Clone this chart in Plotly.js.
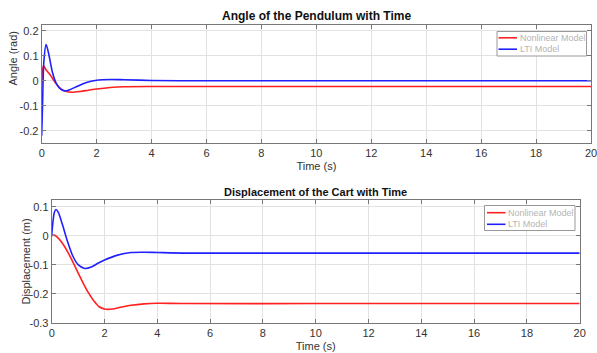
<!DOCTYPE html>
<html>
<head>
<meta charset="utf-8">
<script src="https://cdn.plot.ly/plotly-3.0.1.min.js"></script>
<style>html,body{margin:0;padding:0;background:#fff;}#chart{width:597px;height:353px;}</style>
</head>
<body>
<div id="chart"></div>
<script>
// Angle of the pendulum (rad)
const angleNonlinT = [0, 0.03, 0.07, 0.15, 0.3, 0.5, 0.7, 0.9, 1.1, 1.4, 1.7, 2.0, 2.5, 3.0, 4.0, 6.0, 10.0, 20.0];
const angleNonlinY = [-0.02, 0.04, 0.06, 0.045, 0.025, -0.008, -0.033, -0.043, -0.046, -0.043, -0.038, -0.033, -0.027, -0.024, -0.023, -0.023, -0.023, -0.023];
const angleLtiT = [0, 0.03, 0.08, 0.16, 0.25, 0.4, 0.55, 0.7, 0.85, 1.0, 1.3, 1.6, 2.0, 2.5, 3.0, 4.0, 5.0, 10.0, 20.0];
const angleLtiY = [-0.22, -0.1, 0.08, 0.145, 0.11, 0.03, -0.015, -0.035, -0.041, -0.037, -0.022, -0.008, 0.002, 0.005, 0.004, 0.001, 0, 0, 0];

// Displacement of the cart (m)
const dispNonlinT = [0, 0.1, 0.2, 0.4, 0.6, 0.8, 1.0, 1.2, 1.4, 1.6, 1.8, 2.0, 2.3, 2.6, 3.0, 3.5, 4.0, 5.0, 10.0, 20.0];
const dispNonlinY = [0, 0.002, -0.004, -0.025, -0.055, -0.09, -0.128, -0.165, -0.198, -0.225, -0.245, -0.253, -0.253, -0.247, -0.24, -0.235, -0.233, -0.234, -0.234, -0.234];
const dispLtiT = [0, 0.05, 0.1, 0.16, 0.25, 0.4, 0.6, 0.8, 1.0, 1.25, 1.5, 1.75, 2.0, 2.5, 3.0, 3.5, 4.0, 5.0, 10.0, 20.0];
const dispLtiY = [0, 0.05, 0.08, 0.09, 0.08, 0.04, -0.02, -0.07, -0.1, -0.113, -0.108, -0.095, -0.084, -0.067, -0.058, -0.057, -0.058, -0.06, -0.06, -0.06];

const seriesNames = ['Nonlinear Model', 'LTI Model'];
const xTicks = [0, 2, 4, 6, 8, 10, 12, 14, 16, 18, 20];
const angleTicks = [-0.2, -0.1, 0, 0.1, 0.2];
const dispTicks = [-0.3, -0.2, -0.1, 0, 0.1];

const RED = '#ff2020', BLUE = '#2020ff';
const COLORS = [RED, BLUE];
const FONT = 'Liberation Sans, Arial, sans-serif';

function mkLine(color) { return {color: color, width: 1.6, shape: 'spline', smoothing: 0.8}; }

const traces = [
  {x: angleNonlinT, y: angleNonlinY, name: seriesNames[0], xaxis: 'x', yaxis: 'y', mode: 'lines', line: mkLine(RED)},
  {x: angleLtiT, y: angleLtiY, name: seriesNames[1], xaxis: 'x', yaxis: 'y', mode: 'lines', line: mkLine(BLUE)},
  {x: dispNonlinT, y: dispNonlinY, name: seriesNames[0], xaxis: 'x2', yaxis: 'y2', mode: 'lines', line: mkLine(RED)},
  {x: dispLtiT, y: dispLtiY, name: seriesNames[1], xaxis: 'x2', yaxis: 'y2', mode: 'lines', line: mkLine(BLUE)}
];

const axBase = {
  showline: true, linecolor: '#777', linewidth: 1, mirror: 'ticks',
  ticks: 'inside', ticklen: 4, tickcolor: '#777',
  showgrid: true, gridcolor: '#e2e2e2', gridwidth: 1,
  zeroline: false, ticklabeloverflow: 'allow',
  tickfont: {family: FONT, size: 11, color: '#333'}
};
const titleFont = {family: FONT, size: 11, color: '#333'};

const W = 597, H = 353;
const px = v => v / W;
const py = v => (H - v) / H;
const fmt = v => (v === 0 ? '0' : String(v));

const shapes = [];
const annotations = [
  {text: '<b>Angle of the Pendulum with Time</b>', xref: 'paper', yref: 'paper',
   x: px((41.7 + 591) / 2), y: py(16), xanchor: 'center', yanchor: 'middle', showarrow: false,
   font: {family: FONT, size: 12, color: '#111'}},
  {text: '<b>Displacement of the Cart with Time</b>', xref: 'paper', yref: 'paper',
   x: px((51.7 + 579.7) / 2), y: py(192), xanchor: 'center', yanchor: 'middle', showarrow: false,
   font: {family: FONT, size: 11, color: '#111'}},
  {text: 'Angle (rad)', xref: 'paper', yref: 'paper', x: px(12.5), y: py(59), xanchor: 'center', yanchor: 'middle',
   textangle: -90, showarrow: false, font: titleFont},
  {text: 'Displacement (m)', xref: 'paper', yref: 'paper', x: px(25.5), y: py(262), xanchor: 'center', yanchor: 'middle',
   textangle: -90, showarrow: false, font: titleFont}
];
// MATLAB-like legends (box, line samples, labels)
const legends = [
  {x0: 497, x1: 586.5, y0: 31.5, y1: 56, rows: [37.8, 49.2], lx0: 498.5, lx1: 517, tx: 518},
  {x0: 484.5, x1: 575, y0: 205.5, y1: 230.5, rows: [212.7, 224.3], lx0: 487, lx1: 505.5, tx: 506}
];
legends.forEach(L => {
  shapes.push({type: 'rect', xref: 'paper', yref: 'paper', x0: px(L.x0), x1: px(L.x1), y0: py(L.y1), y1: py(L.y0),
    line: {color: '#999', width: 1}, fillcolor: '#fff', layer: 'above'});
  seriesNames.forEach((name, i) => {
    shapes.push({type: 'line', xref: 'paper', yref: 'paper', x0: px(L.lx0), x1: px(L.lx1), y0: py(L.rows[i]), y1: py(L.rows[i]),
      line: {color: COLORS[i], width: 1.6}, layer: 'above'});
    annotations.push({text: name, xref: 'paper', yref: 'paper', x: px(L.tx), y: py(L.rows[i]),
      xanchor: 'left', yanchor: 'middle', showarrow: false, font: {family: FONT, size: 9, color: '#b5b5b5'}});
  });
});

const layout = {
  width: W, height: H,
  margin: {l: 0, r: 0, t: 0, b: 0},
  paper_bgcolor: '#fff', plot_bgcolor: '#fff',
  font: {family: FONT, color: '#333'},
  showlegend: false,
  xaxis: Object.assign({}, axBase, {domain: [px(41.7), px(591)], range: [0, 20], tickvals: xTicks, anchor: 'y',
    title: {text: 'Time (s)', font: titleFont, standoff: 4}}),
  yaxis: Object.assign({}, axBase, {domain: [py(142.7), py(25)], range: [-0.248, 0.223],
    tickvals: angleTicks, ticktext: angleTicks.map(fmt), anchor: 'x'}),
  xaxis2: Object.assign({}, axBase, {domain: [px(51.7), px(579.7)], range: [0, 20], tickvals: xTicks, anchor: 'y2',
    title: {text: 'Time (s)', font: titleFont, standoff: 4}}),
  yaxis2: Object.assign({}, axBase, {domain: [py(322.7), py(200)], range: [-0.3, 0.123],
    tickvals: dispTicks, ticktext: dispTicks.map(fmt), anchor: 'x2'}),
  shapes: shapes,
  annotations: annotations
};

Plotly.newPlot('chart', traces, layout, {displayModeBar: false, staticPlot: true});
</script>
</body>
</html>
